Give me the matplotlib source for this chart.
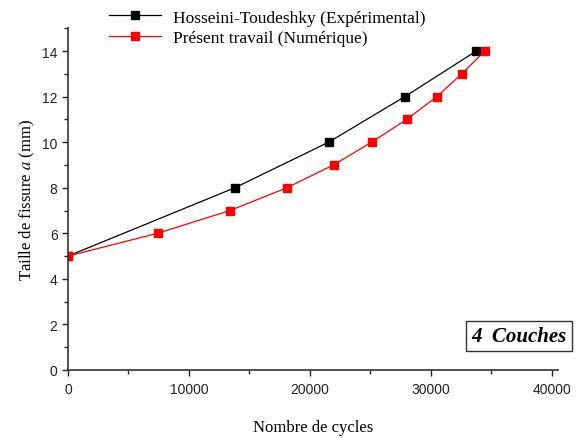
import matplotlib.pyplot as plt
from matplotlib.ticker import MultipleLocator

plt.rcParams['mathtext.fontset'] = 'stix'

# crack length a (mm) vs number of cycles
cycles_exp = [0, 13800, 21550, 27850, 33750]
a_exp = [5, 8, 10, 12, 14]

cycles_num = [0, 7400, 13400, 18100, 21950, 25100, 28000, 30500, 32550, 34450]
a_num = [5, 6, 7, 8, 9, 10, 11, 12, 13, 14]

serif = ['Liberation Serif', 'DejaVu Serif']
sans = ['Liberation Sans', 'DejaVu Sans']

fig = plt.figure(figsize=(5.84, 4.39), dpi=100)
ax = fig.add_axes([0.1164, 0.1549, 0.8390, 0.7785])

ax.plot(cycles_exp, a_exp, color='black', lw=0.9, marker='s', ms=6,
        label='Hosseini-Toudeshky (Expérimental)')
ax.plot(cycles_num, a_num, color='red', lw=0.9, marker='s', ms=6,
        label='Présent travail (Numérique)')

ax.set_xlim(0, 40500)
ax.set_ylim(0, 15)
ax.xaxis.set_major_locator(MultipleLocator(10000))
ax.xaxis.set_minor_locator(MultipleLocator(5000))
ax.yaxis.set_major_locator(MultipleLocator(2))
ax.yaxis.set_minor_locator(MultipleLocator(1))
ax.tick_params(which='both', direction='out', width=1, colors='#222222')
ax.tick_params(which='major', length=4, labelsize=10)
ax.tick_params(which='minor', length=3)
ax.tick_params(axis='x', pad=5)
for lab in ax.get_xticklabels() + ax.get_yticklabels():
    lab.set_family(sans)

for side in ['top', 'right']:
    ax.spines[side].set_visible(False)
for side in ['left', 'bottom']:
    ax.spines[side].set_linewidth(1.2)
    ax.spines[side].set_color('#333333')

ax.set_xlabel('Nombre de cycles', family=serif, fontsize=12, labelpad=16)
ax.set_ylabel('Taille de fissure $\\mathit{a}$ (mm)', family=serif, fontsize=12,
              labelpad=4)

fig.legend(loc='upper left', bbox_to_anchor=(0.16, 1.012), frameon=False,
           prop={'family': serif, 'size': 12.5}, handlelength=3,
           handletextpad=0.7, labelspacing=0.25)

fig.text(0.8887, 0.232, '4  Couches', family=serif, fontsize=15,
         fontweight='bold', fontstyle='italic', ha='center', va='center',
         bbox=dict(boxstyle='square,pad=0.25', fc='white', ec='#333333', lw=1))

fig.savefig('out.png', dpi=100)
